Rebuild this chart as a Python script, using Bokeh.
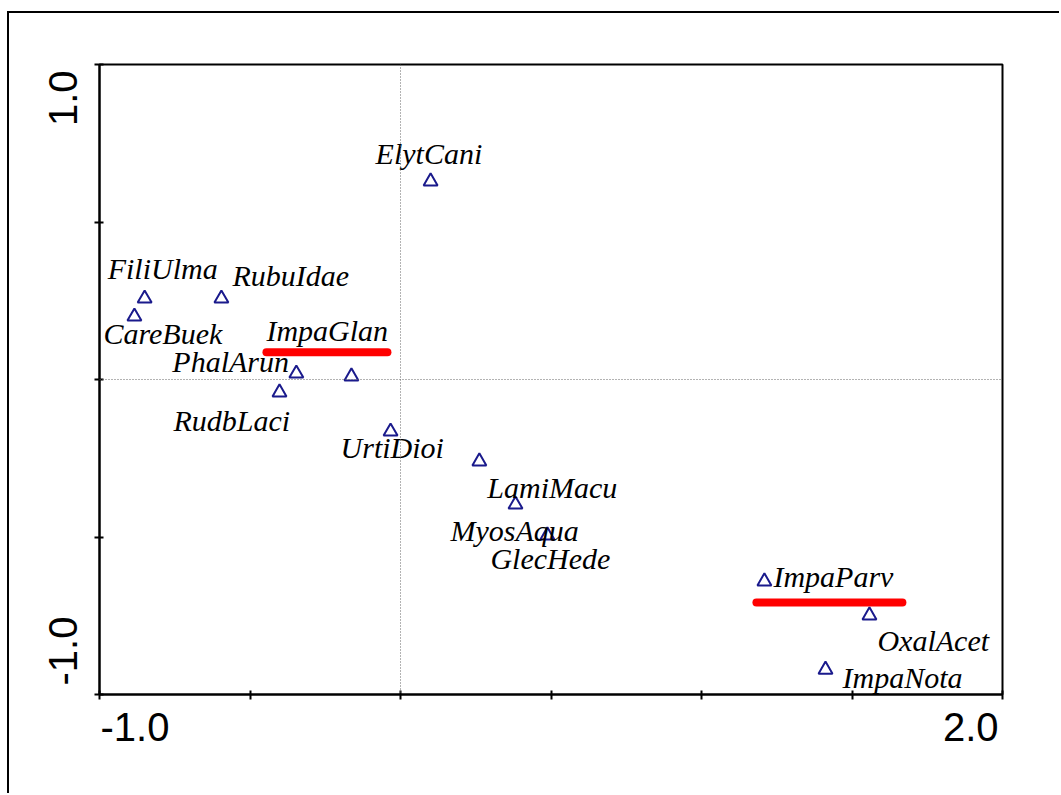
import math

from bokeh.core.properties import value
from bokeh.embed import file_html
from bokeh.models import ColumnDataSource, FixedTicker, Label, Range1d, Span
from bokeh.plotting import figure
from bokeh.resources import INLINE

# Species scores on the first two ordination axes
species = ["ElytCani", "FiliUlma", "RubuIdae", "CareBuek", "PhalArun", "ImpaGlan",
           "RudbLaci", "UrtiDioi", "LamiMacu", "MyosAqua", "GlecHede", "ImpaParv",
           "OxalAcet", "ImpaNota"]
axis1 = [0.100, -0.850, -0.595, -0.884, -0.346, -0.163,
         -0.402, -0.033, 0.262, 0.382, 0.488, 1.209,
         1.558, 1.412]
axis2 = [0.629, 0.257, 0.257, 0.200, 0.019, 0.010,
         -0.041, -0.165, -0.260, -0.397, -0.495, -0.641,
         -0.749, -0.921]

x_ticks = [-1.0, -0.5, 0.0, 0.5, 1.0, 1.5, 2.0]
y_ticks = [-1.0, -0.5, 0.0, 0.5, 1.0]
x_tick_labels = ["-1.0", "2.0"]
y_tick_labels = ["-1.0", "1.0"]
highlighted = ["ImpaGlan", "ImpaParv"]

# Layout (pixels); the canvas sits 9 px right / 13 px down inside an outer frame line
OFF_X, OFF_Y = 9, 13
W, H = 1061 - OFF_X, 795 - OFF_Y
LEFT, RIGHT, TOP, BOTTOM = 99 - OFF_X, 59, 64 - OFF_Y, 101
X0, X1, Y0, Y1 = -1.0, 2.0, -1.0, 1.0
PX_X = (W - LEFT - RIGHT) / (X1 - X0)
PX_Y = (H - TOP - BOTTOM) / (Y1 - Y0)

# Label placement: offset of the text's left/baseline from its point (screen px, y down)
label_dx = [-55, -37, 11, -31, -124, -85, -106, -50, 8, -65, -57, 9, 8, 17]
label_dy = [-28, -30, -23, 17, -12, -46, 28, 16, 26, 26, 23, -5, 25, 8]

# Underline spans for highlighted species, relative to their point (screen px, y down)
underline = {"ImpaGlan": (-85, 36, -24), "ImpaParv": (-8, 138, 21)}

p = figure(width=W, height=H, x_range=Range1d(X0, X1), y_range=Range1d(Y0, Y1),
           output_backend="svg", toolbar_location=None,
           min_border_left=LEFT, min_border_right=RIGHT,
           min_border_top=TOP, min_border_bottom=BOTTOM)
p.margin = (OFF_Y, 0, 0, OFF_X)
p.styles = {"box-shadow": "-2px -2px 0 0 #000000"}
p.grid.visible = False
p.background_fill_color = "white"
p.border_fill_color = "white"
p.outline_line_color = "black"
p.outline_line_width = 2

for ax, ticks in ((p.xaxis[0], x_ticks), (p.yaxis[0], y_ticks)):
    ax.ticker = FixedTicker(ticks=ticks, minor_ticks=[])
    ax.major_label_overrides = {t: "" for t in ticks}
    ax.major_label_standoff = 0
    ax.major_tick_in = 4
    ax.major_tick_out = 5
    ax.major_tick_line_width = 2
    ax.major_tick_line_color = "black"
    ax.minor_tick_line_color = None
    ax.axis_line_width = 2
    ax.axis_line_color = "black"

# Dotted zero lines
for dim in ("height", "width"):
    p.add_layout(Span(location=0, dimension=dim, line_color="#666666",
                      line_dash="1 2", line_width=1))

# Highlight underlines
for name in highlighted:
    i = species.index(name)
    a, b, d = underline[name]
    p.segment(x0=[axis1[i] + a / PX_X], x1=[axis1[i] + b / PX_X],
              y0=[axis2[i] - d / PX_Y], y1=[axis2[i] - d / PX_Y],
              line_color="#ff0000", line_width=8, line_cap="round")

src = ColumnDataSource(dict(x=axis1, y=axis2, name=species, dx=label_dx, dy=label_dy))
p.scatter("x", "y", source=src, marker="triangle", size=14,
          fill_color=None, line_color="#1a1a8c", line_width=2)
p.text("x", "y", text="name", source=src, x_offset="dx", y_offset="dy",
       text_font=value("Liberation Serif"), text_font_style="italic",
       text_font_size="30px", text_align="left", text_baseline="alphabetic",
       text_color="black")

# Axis end labels (side panels, so they are drawn outside the frame)
tick_font = dict(text_font="Liberation Sans", text_font_size="40px", text_color="black")
p.add_layout(Label(x=X0, y=Y0, x_offset=1, y_offset=-32, text=x_tick_labels[0],
                   text_align="left", text_baseline="alphabetic", **tick_font), "below")
p.add_layout(Label(x=X1, y=Y0, x_offset=-4, y_offset=-32, text=x_tick_labels[1],
                   text_align="right", text_baseline="alphabetic", **tick_font), "below")
p.add_layout(Label(x=X0, y=Y0, x_offset=-37, y_offset=9, angle=math.pi / 2,
                   text=y_tick_labels[0], text_align="left",
                   text_baseline="alphabetic", **tick_font), "left")
p.add_layout(Label(x=X0, y=Y1, x_offset=-37, y_offset=-6, angle=math.pi / 2,
                   text=y_tick_labels[1], text_align="right",
                   text_baseline="alphabetic", **tick_font), "left")

open("out.html", "w").write(file_html(p, INLINE))
